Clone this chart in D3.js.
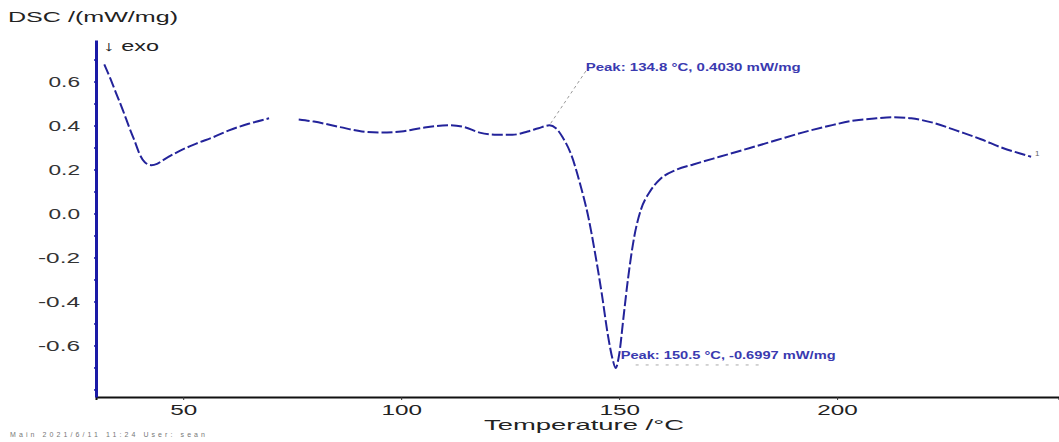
<!DOCTYPE html>
<html>
<head>
<meta charset="utf-8">
<script src="https://cdnjs.cloudflare.com/ajax/libs/d3/7.8.5/d3.min.js"></script>
<style>
  body { margin: 0; background: #fff; }
  text { font-family: "Liberation Sans", Arial, sans-serif; }
</style>
</head>
<body>
<script>
// temperature (°C) and DSC signal (mW/mg); null = gap in the trace
var temps = [31.9, 33.2, 34.6, 36.2, 37.6, 38.9, 39.9, 41.2, 42.7, 44.0, 45.4, 49.0, 53.0, 57.0, 60.5, 65.0, 69.7, 72.0,
             76.5, 80.0, 86.0, 91.0, 95.0, 100.0, 104.5, 108.0, 111.0, 114.5, 118.0, 122.0, 125.5, 129.0, 131.5, 134.0,
             135.5, 137.0, 139.0, 141.0, 143.0, 144.5, 146.0, 147.5, 148.5, 149.2, 150.0, 151.0, 152.0, 153.5,
             155.0, 157.0, 159.5, 163.0, 167.0, 173.0, 180.0, 186.0, 192.0, 198.0, 204.0, 209.0, 213.0,
             217.0, 222.0, 228.0, 233.0, 238.0, 242.0, 244.5];
var dsc   = [0.68, 0.62, 0.55, 0.47, 0.395, 0.33, 0.277, 0.235, 0.222, 0.228, 0.245, 0.285, 0.32, 0.35, 0.38, 0.41, 0.435, null,
             0.43, 0.42, 0.395, 0.375, 0.37, 0.375, 0.39, 0.40, 0.403, 0.395, 0.37, 0.36, 0.36, 0.375, 0.39, 0.403,
             0.39, 0.35, 0.27, 0.14, -0.02, -0.18, -0.36, -0.56, -0.66, -0.70, -0.64, -0.47, -0.30, -0.10,
             0.02, 0.10, 0.16, 0.20, 0.225, 0.26, 0.30, 0.335, 0.37, 0.40, 0.425, 0.435, 0.44,
             0.435, 0.415, 0.375, 0.34, 0.30, 0.275, 0.26];

var xTicks = [50, 100, 150, 200];
var yTicks = [-0.6, -0.4, -0.2, 0.0, 0.2, 0.4, 0.6];
var yLabels = ['-0.6', '-0.4', '-0.2', '0.0', '0.2', '0.4', '0.6'];

var peakHi = { t: 134.3, v: 0.403, text: 'Peak: 134.8 °C, 0.4030 mW/mg' };
var peakLo = { t: 149.2, v: -0.70, text: 'Peak: 150.5 °C, -0.6997 mW/mg' };

var W = 1059, H = 442;
var margin = { top: 40, right: 0, bottom: 45, left: 96 };

var svg = d3.select('body').append('svg').attr('width', W).attr('height', H);

var x = d3.scaleLinear().domain([30, 250.9]).range([margin.left, W - margin.right]);
var y = d3.scaleLinear().domain([-0.832, 0.791]).range([H - margin.bottom, margin.top]);

var points = temps.map(function(t, i) { return { t: t, v: dsc[i] }; });

// the reference text is stretched sideways, so widths are forced with textLength
function stretch(sel, perChar) {
  sel.attr('lengthAdjust', 'spacingAndGlyphs')
    .attr('textLength', function() { return this.textContent.length * perChar; });
}

// x axis
var gx = svg.append('g').attr('transform', 'translate(0,' + (H - margin.bottom) + ')')
  .call(d3.axisBottom(x).tickValues(xTicks).tickSize(3).tickPadding(5).tickFormat(d3.format('d')));
gx.select('.domain').attr('stroke', '#111').attr('stroke-width', 2);
gx.selectAll('.tick line').attr('stroke', '#333');
gx.selectAll('.tick text').attr('font-size', 14).attr('fill', '#222')
  .attr('font-family', '"Liberation Sans", Arial, sans-serif')
  .call(stretch, 13.5);

// y axis
var gy = svg.append('g').attr('transform', 'translate(' + margin.left + ',0)')
  .call(d3.axisLeft(y).tickValues(yTicks).tickSize(0).tickPadding(16)
    .tickFormat(function(d, i) { return yLabels[i]; }));
gy.select('.domain').attr('stroke', '#1a1aa6').attr('stroke-width', 3);
gy.selectAll('.tick text').attr('font-size', 14).attr('fill', '#333')
  .attr('font-family', '"Liberation Sans", Arial, sans-serif')
  .call(stretch, 10.5);

// little minor marks along the y axis
svg.append('g').selectAll('line')
  .data(d3.range(-0.8, 0.75, 0.1))
  .enter().append('line')
  .attr('x1', margin.left - 2).attr('x2', margin.left + 1)
  .attr('y1', function(d) { return y(d); }).attr('y2', function(d) { return y(d); })
  .attr('stroke', '#1a1aa6').attr('stroke-width', 1.5);

// titles
svg.append('text').attr('x', 8).attr('y', 22).attr('font-size', 15).attr('fill', '#222')
  .attr('lengthAdjust', 'spacingAndGlyphs').attr('textLength', 170)
  .text('DSC /(mW/mg)');
svg.append('text').attr('x', 103).attr('y', 51).attr('font-size', 14).attr('fill', '#222')
  .attr('lengthAdjust', 'spacingAndGlyphs').attr('textLength', 56)
  .text('↓ exo');
svg.append('text').attr('x', 484).attr('y', 430).attr('font-size', 15).attr('fill', '#222')
  .attr('lengthAdjust', 'spacingAndGlyphs').attr('textLength', 200)
  .text('Temperature /°C');
svg.append('text').attr('x', 10).attr('y', 437).attr('font-size', 7).attr('fill', '#777')
  .attr('textLength', 195).text('Main  2021/6/11 11:24  User: sean');

// curve
var line = d3.line().defined(function(d) { return d.v !== null; })
  .curve(d3.curveMonotoneX)
  .x(function(d) { return x(d.t); })
  .y(function(d) { return y(d.v); });

svg.append('path').datum(points)
  .attr('d', line)
  .attr('fill', 'none')
  .attr('stroke', '#23239a')
  .attr('stroke-width', 2)
  .attr('stroke-dasharray', '11,3');

// end mark
svg.append('text').attr('x', x(temps[temps.length - 1]) + 4).attr('y', y(dsc[dsc.length - 1]) - 1)
  .attr('font-size', 8).attr('fill', '#666').text('1');

// peak annotations
svg.append('line')
  .attr('x1', x(peakHi.t)).attr('y1', y(peakHi.v) - 2)
  .attr('x2', x(peakHi.t) + 37).attr('y2', y(peakHi.v) - 57)
  .attr('stroke', '#999').attr('stroke-width', 1).attr('stroke-dasharray', '3,3');
svg.append('text').attr('x', x(peakHi.t) + 35).attr('y', y(peakHi.v) - 54)
  .attr('font-size', 10).attr('font-weight', 'bold').attr('fill', '#3a3ab0')
  .attr('lengthAdjust', 'spacingAndGlyphs').attr('textLength', 215)
  .text(peakHi.text);

svg.append('line')
  .attr('x1', x(peakLo.t) + 20).attr('y1', y(peakLo.v) - 3)
  .attr('x2', x(peakLo.t) + 150).attr('y2', y(peakLo.v) - 3)
  .attr('stroke', '#aaa').attr('stroke-width', 1).attr('stroke-dasharray', '3,7');
svg.append('text').attr('x', x(peakLo.t) + 5).attr('y', y(peakLo.v) - 9)
  .attr('font-size', 10).attr('font-weight', 'bold').attr('fill', '#3a3ab0')
  .attr('lengthAdjust', 'spacingAndGlyphs').attr('textLength', 215)
  .text(peakLo.text);
</script>
</body>
</html>
